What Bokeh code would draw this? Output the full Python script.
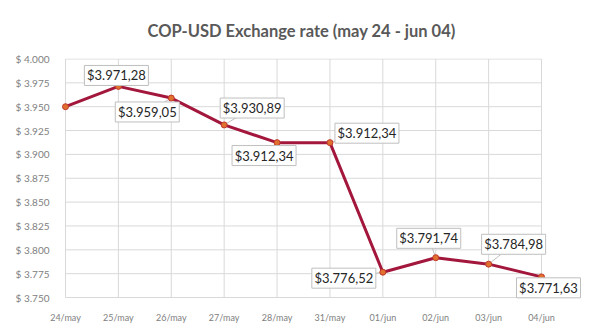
from bokeh.plotting import figure
from bokeh.models import FixedTicker, CustomJSTickFormatter, Range1d
from bokeh.core.properties import value
from bokeh.embed import file_html
from bokeh.resources import INLINE

categories = ["24/may", "25/may", "26/may", "27/may", "28/may", "31/may", "01/jun", "02/jun", "03/jun", "04/jun"]
rates = [3950.0, 3971.28, 3959.05, 3930.89, 3912.34, 3912.34, 3776.52, 3791.74, 3784.98, 3771.63]
labels = ["", "$3.971,28", "$3.959,05", "$3.930,89", "$3.912,34", "$3.912,34", "$3.776,52", "$3.791,74", "$3.784,98", "$3.771,63"]
y_ticks = [3750, 3775, 3800, 3825, 3850, 3875, 3900, 3925, 3950, 3975, 4000]

# label box offsets in screen pixels (style)
off_x = [0, -2, -24, 28, -13, 37, -39, -7, 25, 7]
off_y = [0, 11, -14, 17, -13, 9.5, -6, 19.5, 20, -11]

n = len(categories)
xs = list(range(n))
PXX = 476 / (n - 1)        # pixels per category step
PXY = 240 / 250            # pixels per peso
Y0, Y1 = y_ticks[0], y_ticks[-1]

p = figure(width=600, height=328, output_backend="svg", toolbar_location=None,
           x_range=Range1d(-7 / PXX, (n - 1) + 51 / PXX),
           y_range=Range1d(Y0 - 3 / PXY, Y1 + 0.5 / PXY),
           min_border_left=58, min_border_right=8, min_border_top=57, min_border_bottom=28,
           background_fill_color="white", border_fill_color="white")
p.outline_line_color = None

p.title.text = "COP-USD Exchange rate (may 24 - jun 04)"
p.title.align = "left"
p.title.offset = 89
p.title.standoff = 36
p.title.text_font = "Lato"
p.title.text_font_size = "16.5px"
p.title.text_font_style = "bold"
p.title.text_color = "#595959"

p.xaxis.ticker = FixedTicker(ticks=xs)
p.xaxis.major_label_overrides = {i: c for i, c in enumerate(categories)}
p.yaxis.ticker = FixedTicker(ticks=y_ticks)
p.yaxis.formatter = CustomJSTickFormatter(code="""
const s = Math.round(tick).toString();
return '$ ' + s.slice(0, s.length - 3) + '.' + s.slice(s.length - 3);
""")
for ax in (p.xaxis, p.yaxis):
    ax.axis_line_color = None
    ax.major_tick_line_color = None
    ax.minor_tick_line_color = None
    ax.major_label_text_color = "#808080"
    ax.major_label_text_font = "Lato"
p.yaxis.major_label_text_font_size = "10px"
p.xaxis.major_label_text_font_size = "9px"
p.yaxis.major_label_standoff = 3
p.xaxis.major_label_standoff = 5
p.grid.visible = False

# grid lines limited to the category / tick extent
p.segment(xs, [Y0] * n, xs, [Y1] * n, line_color="#d9d9d9", line_width=1)
p.segment([0] * len(y_ticks), y_ticks, [n - 1] * len(y_ticks), y_ticks, line_color="#d9d9d9", line_width=1)

# label box centres
bx, by, bt, px0, py0 = [], [], [], [], []
for i in range(1, n):
    px0.append(xs[i]); py0.append(rates[i])
    bx.append(xs[i] + off_x[i] / PXX)
    by.append(rates[i] + off_y[i] / PXY)
    bt.append(labels[i])

p.segment(px0, py0, bx, by, line_color="#bfbfbf", line_width=1)

p.line(xs, rates, line_color="#a3173c", line_width=3)
p.scatter(xs, rates, size=6, fill_color="#e0702e", line_color="#c0392b", line_width=1)

p.rect(bx, by, width=64, height=20, width_units="screen", height_units="screen",
       fill_color="white", line_color="#bfbfbf", line_width=1)
p.text(bx, by, text=bt, text_align="center", text_baseline="middle",
       text_font=value("Lato"), text_font_size="13px", text_color="#262626")

open("out.html", "w").write(file_html(p, INLINE))
